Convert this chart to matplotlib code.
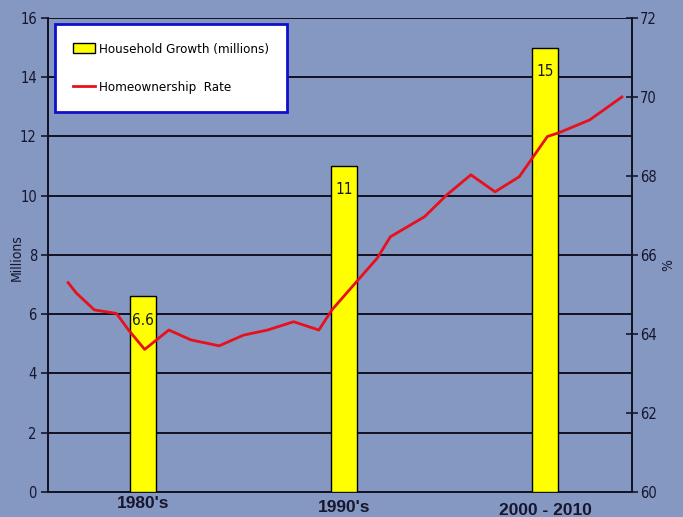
import matplotlib.pyplot as plt
from matplotlib.patches import Patch
from matplotlib.lines import Line2D

# decades (bar centres in years) and household growth, millions
decades = ["1980's", "1990's", "2000 - 2010"]
bar_x = [1985, 1995, 2005]
growth = [6.6, 11, 15]
growth_txt = ["6.6", "11", "15"]

# homeownership rate, %
rate_x = [1981.3, 1981.7, 1982.6, 1983.7, 1984.3, 1985.1, 1986.3, 1987.4, 1988.8,
          1990.0, 1991.2, 1992.5, 1993.75, 1994.4, 1995.7, 1996.65, 1997.3, 1999.0,
          2000.1, 2001.3, 2002.5, 2003.7, 2004.4, 2005.1, 2005.7, 2007.2, 2008.8]
rate = [65.3, 65.04, 64.61, 64.52, 64.10, 63.61, 64.10, 63.85, 63.70,
        63.97, 64.10, 64.31, 64.10, 64.61, 65.37, 65.92, 66.46, 66.97,
        67.52, 68.03, 67.60, 67.98, 68.49, 69.0, 69.10, 69.42, 70.0]

bg = '#8598c2'
ink = '#16162e'
narrow = dict(family='DejaVu Sans', stretch='condensed')

fig = plt.figure(figsize=(6.83, 5.17), dpi=100, facecolor=bg)
ax = fig.add_axes([0.0703, 0.0484, 0.855, 0.9168])
ax.set_facecolor(bg)

ax.bar(bar_x, growth, width=1.3, color='#ffff00', edgecolor='black', linewidth=1, zorder=3)
for x, h, t in zip(bar_x, growth, growth_txt):
    ax.text(x, h - 0.55, t, ha='center', va='top', fontsize=11, color=ink,
            zorder=4, **narrow)

ax.set_xlim(1980.3, 2009.3)
ax.set_ylim(0, 16)
ax.set_yticks(range(0, 17, 2))
ax.set_xticks([])
for y in range(2, 17, 2):
    ax.axhline(y, color='#111122', linewidth=1.4, zorder=1)
ax.tick_params(axis='y', direction='out', length=5, width=1.2, colors=ink, labelsize=10.5, pad=3)
for lb in ax.get_yticklabels():
    lb.set_family('DejaVu Sans')
    lb.set_stretch('condensed')
fig.text(17 / 683, 1 - 258 / 517, 'Millions', rotation=90, ha='center', va='center',
         fontsize=10, color=ink, **narrow)
for s in ['left', 'bottom', 'right', 'top']:
    ax.spines[s].set_color('#111122')
    ax.spines[s].set_linewidth(1.4)
ax.spines['top'].set_visible(False)

ax2 = ax.twinx()
ax2.plot(rate_x, rate, color='#e8101c', linewidth=2, zorder=5)
ax2.set_ylim(60, 72)
ax2.set_yticks(range(60, 73, 2))
ax2.tick_params(axis='y', direction='inout', length=8, width=1.2, colors=ink, labelsize=10.5, pad=2)
for lb in ax2.get_yticklabels():
    lb.set_family('DejaVu Sans')
    lb.set_stretch('condensed')
fig.text(668 / 683, 1 - 265 / 517, '%', rotation=90, ha='center', va='center',
         fontsize=10, color=ink, **narrow)
for s in ax2.spines.values():
    s.set_visible(False)

for x, lab, dy in zip(bar_x, decades, [0, -2.5, -5]):
    ax.annotate(lab, xy=(x, 0), xycoords='data', xytext=(0, -3 + dy),
                textcoords='offset points', ha='center', va='top',
                fontsize=12.5, fontweight='bold', color=ink, family='Liberation Sans')

handles = [Patch(facecolor='#ffff00', edgecolor='black', linewidth=1),
           Line2D([0], [0], color='#e8101c', linewidth=2)]
leg = ax.legend(handles, ['Household Growth (millions)', 'Homeownership  Rate'],
                loc='upper left', bbox_to_anchor=(0.012, 0.987), frameon=True,
                fancybox=False, framealpha=1, borderpad=1.4, labelspacing=1.9,
                handlelength=1.6, handletextpad=0.3, borderaxespad=0,
                prop={'family': 'DejaVu Sans', 'stretch': 'condensed', 'size': 9.5})
leg.get_frame().set_edgecolor('#1010cc')
leg.get_frame().set_linewidth(2)
leg.set_zorder(10)
for t in leg.get_texts():
    t.set_color('black')

fig.savefig('out.png', dpi=100, facecolor=bg)
